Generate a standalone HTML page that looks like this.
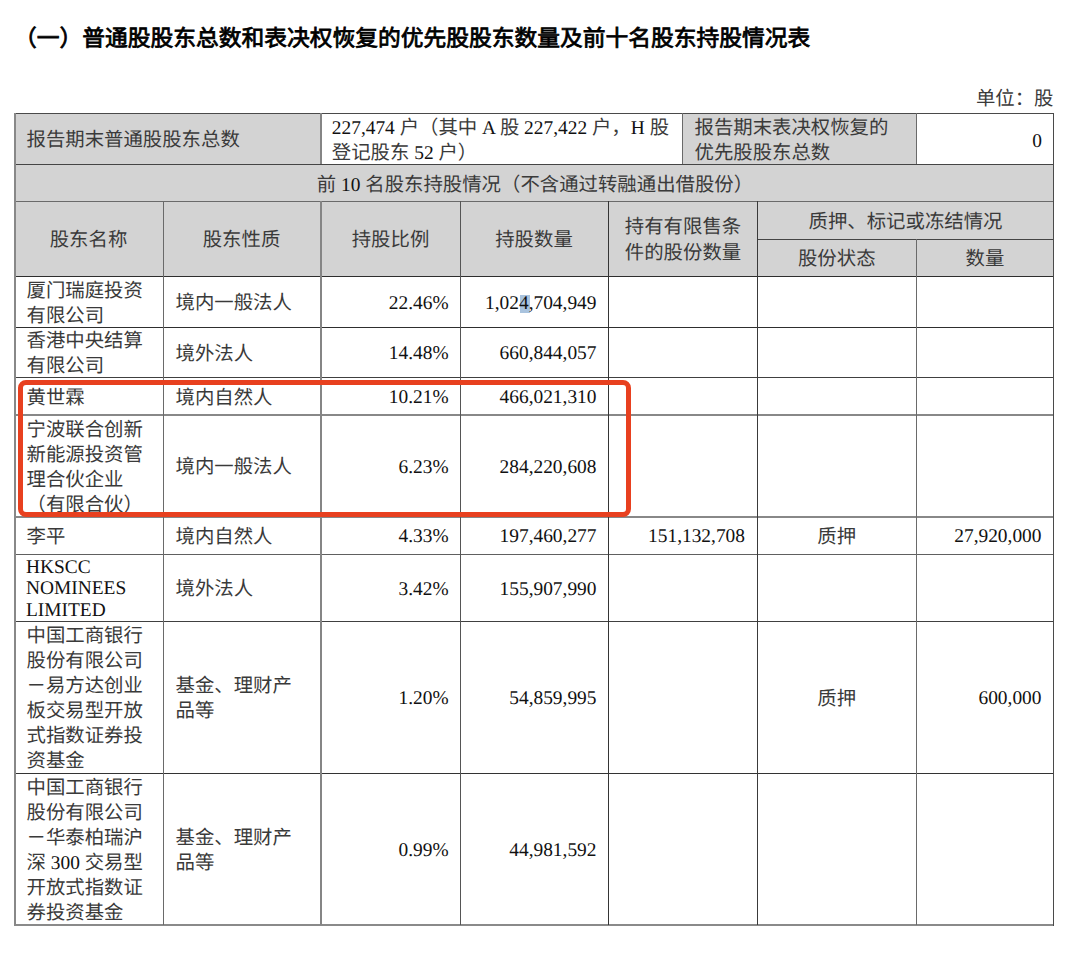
<!DOCTYPE html>
<html lang="zh-CN"><head><meta charset="utf-8"><title>前十名股东持股情况表</title>
<style>
html,body{margin:0;padding:0;background:#fff;}
body{width:1080px;height:965px;position:relative;overflow:hidden;text-rendering:geometricPrecision;font-family:"Liberation Serif",serif;font-size:19.4px;color:#111;}
.r{position:absolute;}
.c{color:#3a3a3a;}
.b .c{color:#000;}
.t{position:absolute;white-space:pre;line-height:25px;}
.b{font-weight:normal;-webkit-text-stroke:0.8px #000;font-size:22.75px;color:#000;}
</style></head><body>

<div class="r" style="left:14px;top:113px;width:307px;height:51px;background:#d3d3d3"></div>
<div class="r" style="left:682px;top:113px;width:235px;height:51px;background:#d3d3d3"></div>
<div class="r" style="left:14px;top:164px;width:1040px;height:112px;background:#d3d3d3"></div>
<div class="r" style="left:14px;top:113px;width:1040px;height:1px;background:#4a4a4a"></div>
<div class="r" style="left:14px;top:164px;width:1040px;height:1px;background:#454545"></div>
<div class="r" style="left:14px;top:201px;width:1040px;height:1px;background:#6a6a6a"></div>
<div class="r" style="left:757px;top:239px;width:297px;height:1px;background:#444"></div>
<div class="r" style="left:14px;top:276px;width:1040px;height:1px;background:#2e2e2e"></div>
<div class="r" style="left:14px;top:327px;width:1040px;height:1px;background:#2e2e2e"></div>
<div class="r" style="left:14px;top:377px;width:1040px;height:1px;background:#404040"></div>
<div class="r" style="left:14px;top:414px;width:1040px;height:2px;background:#888"></div>
<div class="r" style="left:14px;top:516px;width:1040px;height:2px;background:#888"></div>
<div class="r" style="left:14px;top:554px;width:1040px;height:1px;background:#606060"></div>
<div class="r" style="left:14px;top:621px;width:1040px;height:1px;background:#404040"></div>
<div class="r" style="left:14px;top:773px;width:1040px;height:1px;background:#333"></div>
<div class="r" style="left:14px;top:924px;width:1040px;height:2px;background:#8a8a8a"></div>
<div class="r" style="left:14px;top:113px;width:2px;height:813px;background:#888"></div>
<div class="r" style="left:1053px;top:113px;width:1px;height:813px;background:#4a4a4a"></div>
<div class="r" style="left:163px;top:201px;width:1px;height:724px;background:#6a6a6a"></div>
<div class="r" style="left:320px;top:113px;width:2px;height:51px;background:#858585"></div>
<div class="r" style="left:320px;top:201px;width:2px;height:724px;background:#858585"></div>
<div class="r" style="left:460px;top:201px;width:1px;height:724px;background:#555"></div>
<div class="r" style="left:608px;top:201px;width:1px;height:724px;background:#353535"></div>
<div class="r" style="left:682px;top:113px;width:1px;height:51px;background:#6a6a6a"></div>
<div class="r" style="left:757px;top:201px;width:1px;height:724px;background:#3a3a3a"></div>
<div class="r" style="left:916px;top:113px;width:1px;height:51px;background:#6a6a6a"></div>
<div class="r" style="left:916px;top:239px;width:1px;height:686px;background:#6a6a6a"></div>
<div class="r" style="left:520px;top:295px;width:10px;height:18px;background:#a9c3de"></div>
<div class="t b" style="left:14px;top:25.50px;">（一）普通股股东总数和表决权恢复的优先股股东数量及前十名股东持股情况表</div>
<div class="t" style="top:87.00px;left:453.50px;width:600px;text-align:right;"><span class="c">单位：股</span></div>
<div class="t" style="top:128.30px;left:26.50px;"><span class="c">报告期末普通股股东总数</span></div>
<div class="t" style="top:116.40px;left:331.80px;">227,474 <span class="c">户（其中</span> A <span class="c">股</span> 227,422 <span class="c">户，</span>H <span class="c">股</span></div>
<div class="t" style="top:141.40px;left:331.80px;"><span class="c">登记股东</span> 52 <span class="c">户）</span></div>
<div class="t" style="top:115.80px;left:694.50px;"><span class="c">报告期末表决权恢复的</span></div>
<div class="t" style="top:140.80px;left:694.50px;"><span class="c">优先股股东总数</span></div>
<div class="t" style="top:128.90px;left:442.00px;width:600px;text-align:right;">0</div>
<div class="t" style="top:172.70px;left:316.80px;"><span class="c">前</span> 10 <span class="c">名股东持股情况（不含通过转融通出借股份）</span></div>
<div class="t" style="top:228.30px;left:-311.50px;width:800px;text-align:center;"><span class="c">股东名称</span></div>
<div class="t" style="top:228.30px;left:-158.50px;width:800px;text-align:center;"><span class="c">股东性质</span></div>
<div class="t" style="top:228.30px;left:-9.50px;width:800px;text-align:center;"><span class="c">持股比例</span></div>
<div class="t" style="top:228.30px;left:134.00px;width:800px;text-align:center;"><span class="c">持股数量</span></div>
<div class="t" style="top:215.30px;left:283.00px;width:800px;text-align:center;"><span class="c">持有有限售条</span></div>
<div class="t" style="top:241.30px;left:283.00px;width:800px;text-align:center;"><span class="c">件的股份数量</span></div>
<div class="t" style="top:209.80px;left:505.50px;width:800px;text-align:center;"><span class="c">质押、标记或冻结情况</span></div>
<div class="t" style="top:247.30px;left:436.75px;width:800px;text-align:center;"><span class="c">股份状态</span></div>
<div class="t" style="top:247.30px;left:585.00px;width:800px;text-align:center;"><span class="c">数量</span></div>
<div class="t" style="top:278.80px;left:26.50px;"><span class="c">厦门瑞庭投资</span></div>
<div class="t" style="top:303.80px;left:26.50px;"><span class="c">有限公司</span></div>
<div class="t" style="top:291.30px;left:175.50px;"><span class="c">境内一般法人</span></div>
<div class="t" style="top:290.60px;left:-151.40px;width:600px;text-align:right;">22.46%</div>
<div class="t" style="top:290.60px;left:-3.50px;width:600px;text-align:right;">1,024,704,949</div>
<div class="t" style="top:329.30px;left:26.50px;"><span class="c">香港中央结算</span></div>
<div class="t" style="top:354.30px;left:26.50px;"><span class="c">有限公司</span></div>
<div class="t" style="top:341.80px;left:175.50px;"><span class="c">境外法人</span></div>
<div class="t" style="top:341.10px;left:-151.40px;width:600px;text-align:right;">14.48%</div>
<div class="t" style="top:341.10px;left:-3.50px;width:600px;text-align:right;">660,844,057</div>
<div class="t" style="top:385.55px;left:26.50px;"><span class="c">黄世霖</span></div>
<div class="t" style="top:385.55px;left:175.50px;"><span class="c">境内自然人</span></div>
<div class="t" style="top:384.85px;left:-151.40px;width:600px;text-align:right;">10.21%</div>
<div class="t" style="top:384.85px;left:-3.50px;width:600px;text-align:right;">466,021,310</div>
<div class="t" style="top:417.80px;left:26.50px;"><span class="c">宁波联合创新</span></div>
<div class="t" style="top:442.80px;left:26.50px;"><span class="c">新能源投资管</span></div>
<div class="t" style="top:467.80px;left:26.50px;"><span class="c">理合伙企业</span></div>
<div class="t" style="top:492.80px;left:26.50px;"><span class="c">（有限合伙）</span></div>
<div class="t" style="top:455.30px;left:175.50px;"><span class="c">境内一般法人</span></div>
<div class="t" style="top:454.60px;left:-151.40px;width:600px;text-align:right;">6.23%</div>
<div class="t" style="top:454.60px;left:-3.50px;width:600px;text-align:right;">284,220,608</div>
<div class="t" style="top:525.05px;left:26.50px;"><span class="c">李平</span></div>
<div class="t" style="top:525.05px;left:175.50px;"><span class="c">境内自然人</span></div>
<div class="t" style="top:524.35px;left:-151.40px;width:600px;text-align:right;">4.33%</div>
<div class="t" style="top:524.35px;left:-3.50px;width:600px;text-align:right;">197,460,277</div>
<div class="t" style="top:524.35px;left:145.00px;width:600px;text-align:right;">151,132,708</div>
<div class="t" style="top:525.05px;left:436.75px;width:800px;text-align:center;"><span class="c">质押</span></div>
<div class="t" style="top:524.35px;left:441.50px;width:600px;text-align:right;">27,920,000</div>
<div class="t" style="top:554.50px;left:26.00px;">HKSCC</div>
<div class="t" style="top:576.30px;left:26.00px;">NOMINEES</div>
<div class="t" style="top:598.10px;left:26.00px;">LIMITED</div>
<div class="t" style="top:577.30px;left:175.50px;"><span class="c">境外法人</span></div>
<div class="t" style="top:576.60px;left:-151.40px;width:600px;text-align:right;">3.42%</div>
<div class="t" style="top:576.60px;left:-3.50px;width:600px;text-align:right;">155,907,990</div>
<div class="t" style="top:624.30px;left:26.50px;"><span class="c">中国工商银行</span></div>
<div class="t" style="top:649.30px;left:26.50px;"><span class="c">股份有限公司</span></div>
<div class="t" style="top:674.30px;left:26.50px;"><span class="c">－易方达创业</span></div>
<div class="t" style="top:699.30px;left:26.50px;"><span class="c">板交易型开放</span></div>
<div class="t" style="top:724.30px;left:26.50px;"><span class="c">式指数证券投</span></div>
<div class="t" style="top:749.30px;left:26.50px;"><span class="c">资基金</span></div>
<div class="t" style="top:674.30px;left:175.50px;"><span class="c">基金、理财产</span></div>
<div class="t" style="top:699.30px;left:175.50px;"><span class="c">品等</span></div>
<div class="t" style="top:686.10px;left:-151.40px;width:600px;text-align:right;">1.20%</div>
<div class="t" style="top:686.10px;left:-3.50px;width:600px;text-align:right;">54,859,995</div>
<div class="t" style="top:686.80px;left:436.75px;width:800px;text-align:center;"><span class="c">质押</span></div>
<div class="t" style="top:686.10px;left:441.50px;width:600px;text-align:right;">600,000</div>
<div class="t" style="top:776.05px;left:26.50px;"><span class="c">中国工商银行</span></div>
<div class="t" style="top:801.05px;left:26.50px;"><span class="c">股份有限公司</span></div>
<div class="t" style="top:826.05px;left:26.50px;"><span class="c">－华泰柏瑞沪</span></div>
<div class="t" style="top:851.05px;left:26.50px;"><span class="c">深</span> 300 <span class="c">交易型</span></div>
<div class="t" style="top:876.05px;left:26.50px;"><span class="c">开放式指数证</span></div>
<div class="t" style="top:901.05px;left:26.50px;"><span class="c">券投资基金</span></div>
<div class="t" style="top:826.05px;left:175.50px;"><span class="c">基金、理财产</span></div>
<div class="t" style="top:851.05px;left:175.50px;"><span class="c">品等</span></div>
<div class="t" style="top:837.85px;left:-151.40px;width:600px;text-align:right;">0.99%</div>
<div class="t" style="top:837.85px;left:-3.50px;width:600px;text-align:right;">44,981,592</div>
<div style="position:absolute;left:18px;top:380px;width:613px;height:137px;box-sizing:border-box;border:5px solid #e8401f;border-radius:8px"></div>
</body></html>
